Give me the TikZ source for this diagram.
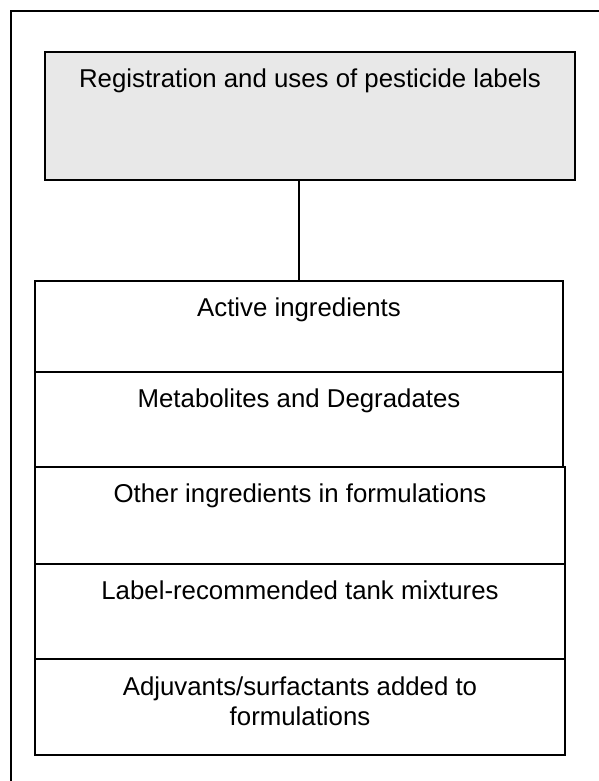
\documentclass[tikz,border=0pt]{standalone}
\usepackage{fontspec}
\setmainfont{Liberation Sans}
\usetikzlibrary{positioning}
\definecolor{boxgray}{RGB}{232,232,232}

\tikzset{
    titlebox/.style={draw, rectangle, fill=boxgray, line width=1.6pt, inner sep=0pt, outer sep=0pt, minimum width=530pt, text height=36pt, text depth=92pt},
    rowbox/.style={draw, rectangle, line width=2.2pt, inner sep=0pt, outer sep=0pt, anchor=north west, align=center, text height=35pt}
}

\begin{document}
\begin{tikzpicture}[x=1pt, y=1pt, font=\fontsize{25.8}{30}\selectfont]
    \useasboundingbox (0,0) rectangle (599,-781);

    % Outer frame, only its top and left edges fall inside the page
    \draw[line width=1.6pt] (11,-781) -- (11,-11) -- (599,-11);

    % Grey box with the main heading
    \node[titlebox, anchor=north west] (labels) at (45,-52) {Registration and uses of pesticide labels};

    % Stacked boxes, each hanging from the one above
    \node[rowbox, minimum width=528pt, text depth=56pt] (active) at (35,-281) {Active ingredients};
    \node[rowbox, minimum width=528pt, text depth=60pt] (metab) at (active.south west) {Metabolites and Degradates};
    \node[rowbox, minimum width=530pt, text depth=62pt] (other) at (metab.south west) {Other ingredients in formulations};
    \node[rowbox, minimum width=530pt, text depth=60pt] (tank) at (other.south west) {Label-recommended tank mixtures};
    % two lines: the base is the last line here
    \node[rowbox, minimum width=530pt, text height=66pt, text depth=30pt] (adjuv) at (tank.south west) {Adjuvants/surfactants added to\\formulations};

    % Line from the heading down to the stack
    \draw[line width=1.6pt] (labels.south -| active.north) -- (active.north);
\end{tikzpicture}
\end{document}
